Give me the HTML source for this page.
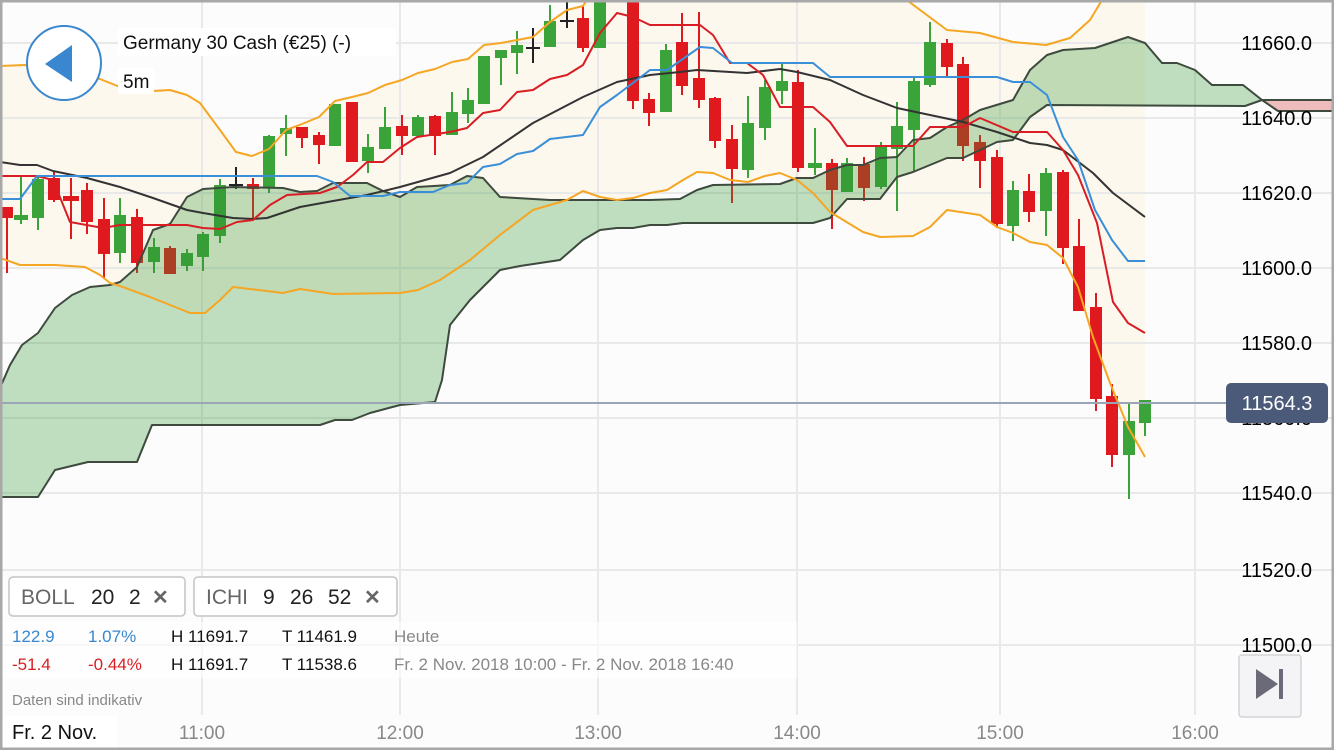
<!DOCTYPE html>
<html><head><meta charset="utf-8"><style>
html,body{margin:0;padding:0;background:#fff}
svg{display:block;font-family:"Liberation Sans",sans-serif}
</style></head><body>
<svg width="1334" height="750" viewBox="0 0 1334 750" xmlns="http://www.w3.org/2000/svg">
<rect x="0" y="0" width="1334" height="750" fill="#fcfcfc"/>
<polygon fill="#fdf8ee" points="0,66 25,65 100,79 120,87 153,91 170,90 187,95 200,103 220,130 236,152 252,156 269,149 286,130 302,124 319,117 335,101 352,97 368,93 385,85 402,80 418,73 435,69 452,62 468,59 484,45 501,43 517,40 533,37 550,22 567,10 583,6 590,-5 900,-5 947,30 980,33 1013,42 1046,45 1070,38 1090,20 1105,-5 1145,-5 1145,457 1128,427 1110,383 1093,337 1078,287 1063,258 1047,245 1030,242 1013,233 997,227 980,215 947,210 930,227 913,236 880,237 863,232 830,212 813,193 797,180 780,173 765,176 748,182 730,180 713,173 697,172 683,180 667,190 650,193 633,198 617,200 600,197 583,191 567,200 550,205 533,210 500,235 470,260 440,280 418,290 400,293 333,294 300,289 283,293 233,287 220,300 205,313 190,313 150,297 120,286 110,283 100,275 85,267 55,265 20,265 0,258"/>
<g stroke="#e9e9e9" stroke-width="2">
<line x1="0" y1="43" x2="1334" y2="43"/><line x1="0" y1="118" x2="1334" y2="118"/><line x1="0" y1="193" x2="1334" y2="193"/><line x1="0" y1="268" x2="1334" y2="268"/><line x1="0" y1="343" x2="1334" y2="343"/><line x1="0" y1="418" x2="1334" y2="418"/><line x1="0" y1="493" x2="1334" y2="493"/><line x1="0" y1="570" x2="1334" y2="570"/><line x1="0" y1="645" x2="1334" y2="645"/>
<line x1="202" y1="0" x2="202" y2="715"/><line x1="400" y1="0" x2="400" y2="715"/><line x1="598" y1="0" x2="598" y2="715"/><line x1="797" y1="0" x2="797" y2="715"/><line x1="1000" y1="0" x2="1000" y2="715"/><line x1="1195" y1="0" x2="1195" y2="715"/>
</g>
<g stroke-width="2">
<g stroke="#e0191e" fill="#e0191e">
<line x1="7" y1="208" x2="7" y2="273"/><rect x="2" y="208" width="10" height="9"/>
<line x1="54" y1="172" x2="54" y2="202"/><rect x="49" y="179" width="10" height="20"/>
<line x1="71" y1="178" x2="71" y2="239"/><rect x="64" y="197" width="14" height="3"/>
<line x1="87" y1="183" x2="87" y2="234"/><rect x="82" y="191" width="10" height="30"/>
<line x1="104" y1="198" x2="104" y2="279"/><rect x="99" y="220" width="10" height="33"/>
<line x1="137" y1="209" x2="137" y2="273"/><rect x="132" y="218" width="10" height="44"/>
<line x1="170" y1="246" x2="170" y2="274"/><rect x="165" y="249" width="10" height="24"/>
<line x1="253" y1="178" x2="253" y2="220"/><rect x="248" y="185" width="10" height="3"/>
<line x1="302" y1="128" x2="302" y2="148"/><rect x="297" y="128" width="10" height="9"/>
<line x1="319" y1="132" x2="319" y2="164"/><rect x="314" y="136" width="10" height="8"/>
<rect x="347" y="103" width="10" height="58"/>
<line x1="402" y1="115" x2="402" y2="155"/><rect x="397" y="127" width="10" height="8"/>
<line x1="435" y1="115" x2="435" y2="155"/><rect x="430" y="117" width="10" height="18"/>
<line x1="583" y1="5" x2="583" y2="52"/><rect x="578" y="19" width="10" height="28"/>
<line x1="633" y1="0" x2="633" y2="109"/><rect x="628" y="0" width="10" height="100"/>
<line x1="649" y1="93" x2="649" y2="126"/><rect x="644" y="100" width="10" height="12"/>
<line x1="682" y1="13" x2="682" y2="95"/><rect x="677" y="43" width="10" height="42"/>
<line x1="699" y1="12" x2="699" y2="108"/><rect x="694" y="79" width="10" height="20"/>
<line x1="715" y1="97" x2="715" y2="148"/><rect x="710" y="99" width="10" height="41"/>
<line x1="732" y1="125" x2="732" y2="203"/><rect x="727" y="140" width="10" height="28"/>
<line x1="798" y1="70" x2="798" y2="172"/><rect x="793" y="83" width="10" height="84"/>
<line x1="832" y1="159" x2="832" y2="229"/><rect x="827" y="164" width="10" height="25"/>
<line x1="864" y1="157" x2="864" y2="201"/><rect x="859" y="165" width="10" height="22"/>
<line x1="947" y1="39" x2="947" y2="76"/><rect x="942" y="44" width="10" height="22"/>
<line x1="963" y1="57" x2="963" y2="161"/><rect x="958" y="65" width="10" height="80"/>
<line x1="980" y1="135" x2="980" y2="188"/><rect x="975" y="143" width="10" height="17"/>
<line x1="997" y1="150" x2="997" y2="228"/><rect x="992" y="158" width="10" height="65"/>
<line x1="1029" y1="174" x2="1029" y2="222"/><rect x="1024" y="192" width="10" height="19"/>
<line x1="1063" y1="170" x2="1063" y2="264"/><rect x="1058" y="173" width="10" height="74"/>
<line x1="1079" y1="219" x2="1079" y2="311"/><rect x="1074" y="247" width="10" height="63"/>
<line x1="1096" y1="293" x2="1096" y2="411"/><rect x="1091" y="308" width="10" height="90"/>
<line x1="1112" y1="384" x2="1112" y2="467"/><rect x="1107" y="397" width="10" height="57"/>
</g>
<g stroke="#3aa33a" fill="#3aa33a">
<line x1="21" y1="177" x2="21" y2="224"/><rect x="15" y="216" width="12" height="3"/>
<line x1="38" y1="175" x2="38" y2="230"/><rect x="33" y="180" width="10" height="37"/>
<line x1="120" y1="198" x2="120" y2="263"/><rect x="115" y="216" width="10" height="36"/>
<line x1="154" y1="238" x2="154" y2="273"/><rect x="149" y="248" width="10" height="13"/>
<line x1="187" y1="249" x2="187" y2="271"/><rect x="182" y="254" width="10" height="11"/>
<line x1="203" y1="232" x2="203" y2="271"/><rect x="198" y="235" width="10" height="21"/>
<line x1="220" y1="179" x2="220" y2="243"/><rect x="215" y="186" width="10" height="49"/>
<line x1="269" y1="135" x2="269" y2="193"/><rect x="264" y="137" width="10" height="50"/>
<line x1="286" y1="115" x2="286" y2="156"/><rect x="281" y="129" width="10" height="4"/>
<rect x="330" y="105" width="10" height="40"/>
<line x1="368" y1="134" x2="368" y2="173"/><rect x="363" y="148" width="10" height="12"/>
<line x1="385" y1="107" x2="385" y2="148"/><rect x="380" y="128" width="10" height="20"/>
<line x1="418" y1="115" x2="418" y2="137"/><rect x="413" y="118" width="10" height="17"/>
<line x1="452" y1="92" x2="452" y2="135"/><rect x="447" y="113" width="10" height="21"/>
<line x1="468" y1="88" x2="468" y2="123"/><rect x="463" y="101" width="10" height="12"/>
<rect x="479" y="57" width="10" height="46"/>
<line x1="501" y1="50" x2="501" y2="85"/><rect x="496" y="51" width="10" height="6"/>
<line x1="517" y1="31" x2="517" y2="74"/><rect x="512" y="46" width="10" height="6"/>
<line x1="550" y1="5" x2="550" y2="46"/><rect x="545" y="22" width="10" height="24"/>
<rect x="595" y="0" width="10" height="47"/>
<line x1="666" y1="44" x2="666" y2="111"/><rect x="661" y="51" width="10" height="60"/>
<line x1="748" y1="96" x2="748" y2="178"/><rect x="743" y="124" width="10" height="45"/>
<line x1="765" y1="80" x2="765" y2="140"/><rect x="760" y="88" width="10" height="39"/>
<line x1="782" y1="63" x2="782" y2="104"/><rect x="777" y="82" width="10" height="8"/>
<line x1="815" y1="128" x2="815" y2="175"/><rect x="809" y="164" width="12" height="3"/>
<line x1="847" y1="158" x2="847" y2="192"/><rect x="842" y="164" width="10" height="27"/>
<line x1="881" y1="142" x2="881" y2="189"/><rect x="876" y="148" width="10" height="38"/>
<line x1="897" y1="102" x2="897" y2="211"/><rect x="892" y="127" width="10" height="21"/>
<line x1="914" y1="76" x2="914" y2="172"/><rect x="909" y="82" width="10" height="47"/>
<line x1="930" y1="22" x2="930" y2="87"/><rect x="925" y="43" width="10" height="41"/>
<line x1="1013" y1="181" x2="1013" y2="241"/><rect x="1008" y="191" width="10" height="34"/>
<line x1="1046" y1="168" x2="1046" y2="236"/><rect x="1041" y="174" width="10" height="36"/>
<line x1="1129" y1="403" x2="1129" y2="499"/><rect x="1124" y="422" width="10" height="32"/>
<line x1="1145" y1="400" x2="1145" y2="436"/><rect x="1140" y="401" width="10" height="21"/>
</g>
<g stroke="#222">
<line x1="236" y1="167" x2="236" y2="189"/><line x1="229" y1="185" x2="243" y2="185"/>
<line x1="533" y1="28" x2="533" y2="63"/><line x1="526" y1="48" x2="540" y2="48"/>
<line x1="567" y1="0" x2="567" y2="28"/><line x1="560" y1="21" x2="574" y2="21"/>
</g>
</g>
<polygon fill="rgba(50,150,50,0.3)" points="0,388 10,365 22,345 38,333 55,308 72,295 90,287 110,285 120,282 137,267 153,230 170,224 187,197 203,189 233,187 283,188 300,192 317,191 333,183 367,183 383,191 400,197 417,187 450,185 467,176 483,178 500,197 550,200 600,200 650,200 680,199 697,190 713,185 780,184 797,178 813,178 830,170 847,165 863,165 880,158 897,157 913,140 930,138 947,127 963,120 980,110 1013,100 1030,70 1047,55 1063,50 1095,48 1128,37 1145,43 1162,63 1177,63 1195,70 1212,85 1243,85 1262,100 1245,106 1080,105 1047,105 1030,117 1013,140 997,142 963,158 947,158 913,172 897,177 880,199 847,199 830,218 813,223 683,223 667,225 650,225 633,228 617,228 600,230 583,240 560,260 520,266 500,270 470,300 450,325 442,380 435,402 400,405 370,413 352,420 335,420 320,425 152,425 137,462 88,462 55,470 38,497 0,497"/>
<polygon fill="#eebcbc" points="1262,100 1334,100 1334,111 1278,111"/>
<g fill="none" stroke="#3d4a3d" stroke-width="2" stroke-linejoin="round">
<polyline points="0,388 10,365 22,345 38,333 55,308 72,295 90,287 110,285 120,282 137,267 153,230 170,224 187,197 203,189 233,187 283,188 300,192 317,191 333,183 367,183 383,191 400,197 417,187 450,185 467,176 483,178 500,197 550,200 600,200 650,200 680,199 697,190 713,185 780,184 797,178 813,178 830,170 847,165 863,165 880,158 897,157 913,140 930,138 947,127 963,120 980,110 1013,100 1030,70 1047,55 1063,50 1095,48 1128,37 1145,43 1162,63 1177,63 1195,70 1212,85 1243,85 1262,100 1278,111 1334,111"/>
<polyline points="0,497 38,497 55,470 88,462 137,462 152,425 320,425 335,420 352,420 370,413 400,405 435,402 442,380 450,325 470,300 500,270 520,266 560,260 583,240 600,230 617,228 633,228 650,225 667,225 683,223 813,223 830,218 847,199 880,199 897,177 913,172 947,158 963,158 997,142 1013,140 1030,117 1047,105 1245,106 1262,100 1334,100"/>
</g>
<g fill="none" stroke-width="2" stroke-linejoin="round">
<polyline stroke="#f5a623" points="0,66 25,65 100,79 120,87 153,91 170,90 187,95 200,103 220,130 236,152 252,156 269,149 286,130 302,124 319,117 335,101 352,97 368,93 385,85 402,80 418,73 435,69 452,62 468,59 484,45 501,43 517,40 533,37 550,22 567,10 583,6 590,-5"/>
<polyline stroke="#f5a623" points="900,-5 947,30 980,33 1013,42 1046,45 1070,38 1090,20 1105,-5"/>
<polyline stroke="#f5a623" points="0,258 20,265 55,265 85,267 100,275 110,283 120,286 150,297 190,313 205,313 220,300 233,287 283,293 300,289 333,294 400,293 418,290 440,280 470,260 500,235 533,210 550,205 567,200 583,191 600,197 617,200 633,198 650,193 667,190 683,180 697,172 713,173 730,180 748,182 765,176 780,173 797,180 813,193 830,212 863,232 880,237 913,236 930,227 947,210 980,215 997,227 1013,233 1030,242 1047,245 1063,258 1078,287 1093,337 1110,383 1128,427 1145,457"/>
<polyline stroke="#333" points="0,162 20,165 37,165 53,171 87,178 120,187 153,198 187,210 203,213 233,218 253,219 267,218 300,207 333,201 367,195 400,187 450,173 483,157 533,123 583,97 617,82 650,75 680,72 697,70 747,73 780,69 797,72 830,80 863,95 897,108 930,115 963,122 997,132 1030,143 1047,145 1063,150 1093,173 1113,193 1145,217"/>
<polyline stroke="#d81e24" points="0,176 37,176 53,180 70,222 103,228 120,225 187,225 203,228 220,229 237,222 253,220 270,205 287,195 320,193 337,187 353,175 367,162 383,162 400,148 417,137 450,132 467,128 483,113 500,110 517,92 533,90 550,79 567,75 583,65 600,33 617,13 633,17 650,25 700,25 713,35 730,63 747,63 763,75 780,107 813,107 830,122 847,146 913,146 930,127 963,127 980,118 1013,132 1047,132 1063,150 1078,175 1097,223 1113,302 1128,323 1145,333"/>
<polyline stroke="#3a8fd8" points="0,199 20,199 37,176 317,176 333,182 350,196 383,196 400,192 433,192 450,185 467,183 483,167 500,164 517,154 533,151 550,139 583,135 600,107 617,95 650,70 667,70 700,47 713,48 732,63 813,63 830,77 997,77 1013,82 1030,82 1047,95 1063,137 1078,160 1095,210 1112,240 1128,261 1145,261"/>
</g>
<line x1="0" y1="403" x2="1226" y2="403" stroke="#9aa6b6" stroke-width="2"/>
<g font-size="20" fill="#000" text-anchor="end">
<text x="1312" y="50">11660.0</text><text x="1312" y="125">11640.0</text><text x="1312" y="200">11620.0</text><text x="1312" y="275">11600.0</text><text x="1312" y="350">11580.0</text><text x="1312" y="425">11560.0</text><text x="1312" y="500">11540.0</text><text x="1312" y="577">11520.0</text><text x="1312" y="652">11500.0</text>
</g>
<rect x="1226" y="383" width="102" height="40" rx="5" fill="#4a5a78"/>
<text x="1277" y="410" font-size="20" fill="#fff" text-anchor="middle">11564.3</text>
<rect x="0" y="715" width="1334" height="35" fill="#fcfcfc"/>
<g font-size="19" fill="#888" text-anchor="middle">
<text x="202" y="739">11:00</text><text x="400" y="739">12:00</text><text x="598" y="739">13:00</text><text x="797" y="739">14:00</text><text x="1000" y="739">15:00</text><text x="1195" y="739">16:00</text>
</g>
<rect x="2" y="716" width="116" height="34" fill="#fff"/>
<text x="12" y="739" font-size="20" fill="#111">Fr. 2 Nov.</text>
<circle cx="64" cy="63" r="37" fill="#fff" stroke="#3a87d0" stroke-width="2"/>
<polygon points="45,64 72,45 72,82" fill="#3a87d0"/>
<rect x="118" y="28" width="278" height="28" fill="#fff"/>
<text x="123" y="49" font-size="19" fill="#111">Germany 30 Cash (€25) (-)</text>
<rect x="118" y="68" width="36" height="26" fill="#fff"/>
<text x="123" y="88" font-size="19" fill="#111">5m</text>
<rect x="9" y="577" width="176" height="39" rx="4" fill="#fff" stroke="#c4c4c4" stroke-width="1.5"/>
<text x="21" y="604" font-size="21" fill="#666">BOLL</text>
<text x="91" y="604" font-size="21" fill="#222">20</text><text x="129" y="604" font-size="21" fill="#222">2</text>
<text x="152" y="604" font-size="20" fill="#666" font-weight="bold">✕</text>
<rect x="194" y="577" width="203" height="39" rx="4" fill="#fff" stroke="#c4c4c4" stroke-width="1.5"/>
<text x="206" y="604" font-size="21" fill="#666">ICHI</text>
<text x="263" y="604" font-size="21" fill="#222">9</text><text x="290" y="604" font-size="21" fill="#222">26</text><text x="328" y="604" font-size="21" fill="#222">52</text>
<text x="364" y="604" font-size="20" fill="#666" font-weight="bold">✕</text>
<rect x="2" y="622" width="795" height="56" fill="rgba(255,255,255,0.6)"/>
<g font-size="17">
<text x="12" y="642" fill="#3a87d0">122.9</text><text x="88" y="642" fill="#3a87d0">1.07%</text>
<text x="171" y="642" fill="#111">H 11691.7</text><text x="282" y="642" fill="#111">T 11461.9</text><text x="394" y="642" fill="#888">Heute</text>
<text x="12" y="670" fill="#d81e24">-51.4</text><text x="88" y="670" fill="#d81e24">-0.44%</text>
<text x="171" y="670" fill="#111">H 11691.7</text><text x="282" y="670" fill="#111">T 11538.6</text><text x="394" y="670" fill="#888">Fr. 2 Nov. 2018 10:00 - Fr. 2 Nov. 2018 16:40</text>
</g>
<text x="12" y="705" font-size="15" fill="#888">Daten sind indikativ</text>
<rect x="1239" y="655" width="62" height="62" rx="3" fill="#f4f4f6" stroke="#d4d4d8" stroke-width="1.5"/>
<polygon points="1256,669 1256,699 1278,684" fill="#6a6a78"/>
<rect x="1279" y="669" width="4" height="30" fill="#6a6a78"/>
<rect x="1" y="1" width="1332" height="748" fill="none" stroke="#a8a8a8" stroke-width="3"/>
</svg>
</body></html>
